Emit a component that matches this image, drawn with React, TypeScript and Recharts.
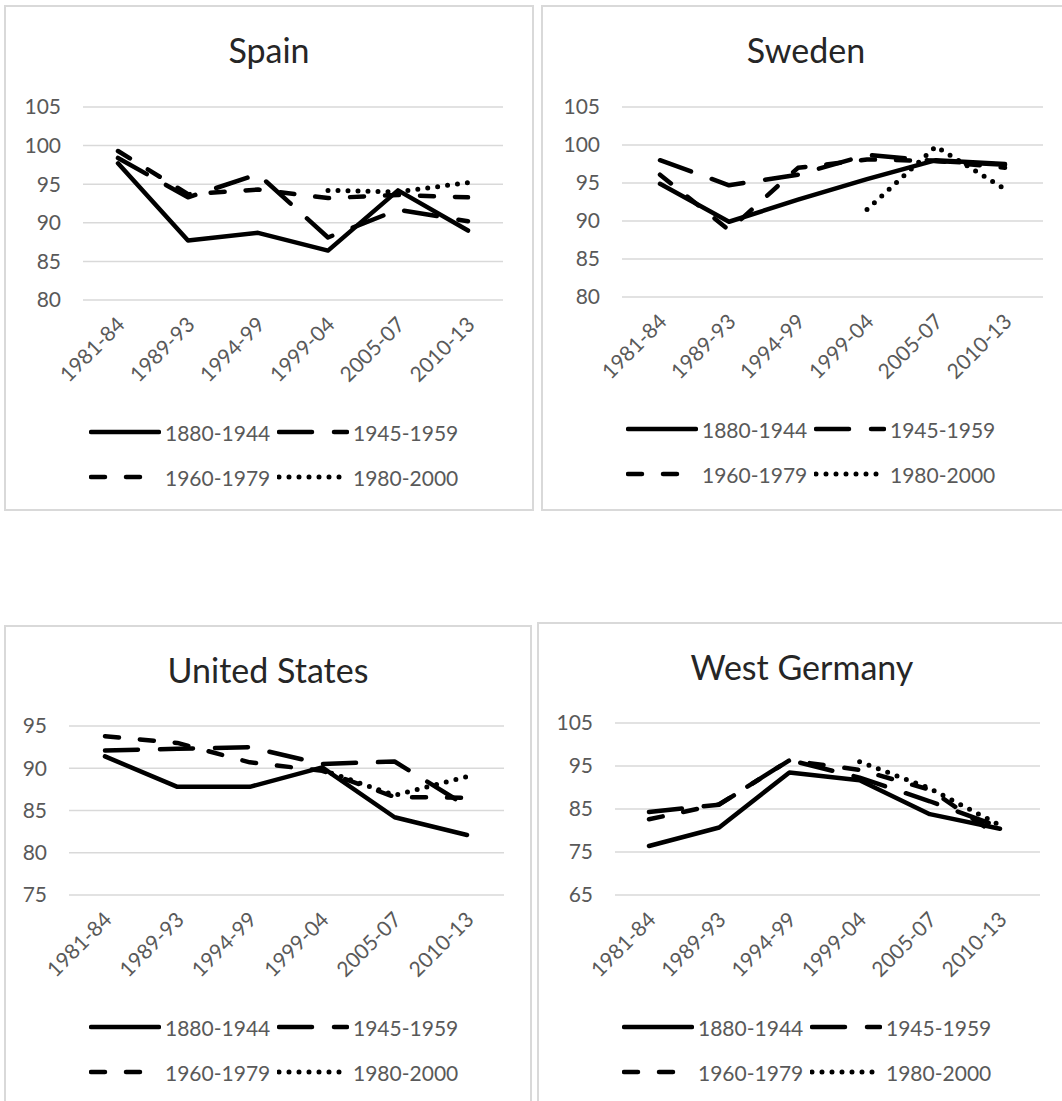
import React from "react";
import { CartesianGrid, Line, LineChart, XAxis, YAxis } from "recharts";

const periods = ["1981-84", "1989-93", "1994-99", "1999-04", "2005-07", "2010-13"];
const cohorts = ["1880-1944", "1945-1959", "1960-1979", "1980-2000"];

// Spain
const spain1880 = [97.7, 87.7, 88.7, 86.4, 94.2, 89.0];
const spain1945 = [98.4, 93.3, 96.3, 88.1, 91.7, 90.2];
const spain1960 = [99.3, 93.7, 94.3, 93.2, 93.6, 93.3];
const spain1980 = [null, null, null, 94.2, 94.0, 95.2];
const spainTicks = [80, 85, 90, 95, 100, 105];

// Sweden
const sweden1880 = [94.9, 89.9, 92.8, 95.5, 98.0, 97.5];
const sweden1945 = [98.0, 94.7, 96.1, 98.7, 97.9, 97.4];
const sweden1960 = [96.1, 88.8, 97.0, 98.1, 97.9, 97.0];
const sweden1980 = [null, null, null, 91.5, 99.8, 94.2];
const swedenTicks = [80, 85, 90, 95, 100, 105];

// United States
const us1880 = [91.4, 87.8, 87.8, 90.1, 84.2, 82.1];
const us1945 = [92.1, 92.3, 92.5, 90.5, 90.8, 85.5];
const us1960 = [93.8, 93.0, 90.7, 89.7, 86.6, 86.5];
const us1980 = [null, null, null, 89.8, 86.8, 89.0];
const usTicks = [75, 80, 85, 90, 95];

// West Germany
const wg1880 = [76.4, 80.7, 93.5, 91.7, 83.8, 80.4];
const wg1945 = [84.3, 86.0, 96.4, 92.3, 86.8, 80.8];
const wg1960 = [82.6, 86.1, 96.3, 94.1, 89.5, 78.5];
const wg1980 = [null, null, null, 96.0, 89.8, 81.2];
const wgTicks = [65, 75, 85, 95, 105];

const FONT = "Lato, 'Open Sans', sans-serif";
const GREY = "#595959";
const dashes = ["", "33 22", "14 21", "0 10"];
const widths = [4.5, 4.5, 4.5, 5];

const buildRows = (series: (number | null)[][]) =>
  periods.map((p, i) => {
    const row: Record<string, string | number | null> = { period: p };
    cohorts.forEach((c, k) => {
      row[c] = series[k][i];
    });
    return row;
  });

type Box = { left: number; top: number; width: number; height: number };
type Plot = { left: number; top: number; right: number; bottom: number };

const panels = [
  {
    title: "Spain",
    rows: buildRows([spain1880, spain1945, spain1960, spain1980]),
    ticks: spainTicks,
    box: { left: 4, top: 5, width: 530, height: 506 },
    plot: { left: 83, top: 107, right: 503, bottom: 300 },
    pad: { left: 35, right: 35 },
  },
  {
    title: "Sweden",
    rows: buildRows([sweden1880, sweden1945, sweden1960, sweden1980]),
    ticks: swedenTicks,
    box: { left: 541, top: 5, width: 530, height: 506 },
    plot: { left: 622, top: 107, right: 1043, bottom: 297 },
    pad: { left: 38, right: 38 },
  },
  {
    title: "United States",
    rows: buildRows([us1880, us1945, us1960, us1980]),
    ticks: usTicks,
    box: { left: 4, top: 625, width: 528, height: 500 },
    plot: { left: 69, top: 726, right: 504, bottom: 895 },
    pad: { left: 36, right: 37 },
  },
  {
    title: "West Germany",
    rows: buildRows([wg1880, wg1945, wg1960, wg1980]),
    ticks: wgTicks,
    box: { left: 537, top: 622, width: 530, height: 500 },
    plot: { left: 615, top: 723, right: 1040, bottom: 895 },
    pad: { left: 34, right: 40 },
  },
];

const Y_WIDTH = 60;
const X_HEIGHT = 100;

const AngledTick = (props: any) => {
  const { x, y, payload } = props;
  const ax = x + 8;
  const ay = y + 26;
  return (
    <text
      x={ax}
      y={ay}
      transform={`rotate(-45, ${ax}, ${ay})`}
      textAnchor="end"
      fill={GREY}
      fontSize={21}
      fontFamily={FONT}
    >
      {payload.value}
    </text>
  );
};

const Sample = ({ index }: { index: number }) => (
  <svg width={72} height={12} style={{ display: "block", flex: "none" }}>
    <line
      x1={2}
      x2={70}
      y1={6}
      y2={6}
      stroke="#000"
      strokeWidth={widths[index]}
      strokeLinecap="round"
      strokeDasharray={dashes[index] || undefined}
    />
  </svg>
);

const LegendRows = ({ box, plot }: { box: Box; plot: Plot }) => {
  const rows = [
    [0, 1],
    [2, 3],
  ];
  return (
    <>
      {rows.map((pair, r) => (
        <div
          key={r}
          style={{
            position: "absolute",
            left: box.left + 85,
            top: plot.bottom + 132 + r * 45 - 13,
            height: 26,
            display: "flex",
            alignItems: "center",
            fontFamily: FONT,
            fontSize: 21,
            color: GREY,
            whiteSpace: "nowrap",
          }}
        >
          {pair.map((k) => (
            <div key={k} style={{ display: "flex", alignItems: "center", width: 188 }}>
              <Sample index={k} />
              <span style={{ marginLeft: 4 }}>{cohorts[k]}</span>
            </div>
          ))}
        </div>
      ))}
    </>
  );
};

const Panel = ({ p }: { p: (typeof panels)[number] }) => {
  const { box, plot } = p;
  const margin = {
    top: plot.top - box.top,
    left: plot.left - box.left - Y_WIDTH,
    right: box.left + box.width - plot.right,
    bottom: box.top + box.height - plot.bottom - X_HEIGHT,
  };
  const domain = [p.ticks[0], p.ticks[p.ticks.length - 1]];
  return (
    <>
      <div
        style={{
          position: "absolute",
          left: box.left,
          top: box.top,
          width: box.width,
          height: box.height,
          border: "2px solid #d9d9d9",
          boxSizing: "border-box",
        }}
      />
      <svg
        style={{ position: "absolute", left: box.left, top: box.top }}
        width={box.width}
        height={80}
      >
        <text
          x={box.width / 2}
          y={58}
          textAnchor="middle"
          fontFamily={FONT}
          fontSize={34}
          fill="#262626"
        >
          {p.title}
        </text>
      </svg>
      <div style={{ position: "absolute", left: box.left, top: box.top }}>
        <LineChart width={box.width} height={box.height} data={p.rows} margin={margin}>
          <CartesianGrid vertical={false} stroke="#d9d9d9" strokeWidth={1.5} />
          <XAxis
            dataKey="period"
            interval={0}
            height={X_HEIGHT}
            padding={p.pad}
            axisLine={false}
            tickLine={false}
            tickSize={0}
            tickMargin={0}
            tick={<AngledTick />}
          />
          <YAxis
            width={Y_WIDTH}
            domain={domain}
            ticks={p.ticks}
            interval={0}
            axisLine={false}
            tickLine={false}
            tickSize={0}
            tickMargin={22}
            tick={{ fill: GREY, fontSize: 21, fontFamily: FONT }}
          />
          {cohorts.map((c, k) => (
            <Line
              key={c}
              dataKey={c}
              type="linear"
              stroke="#000"
              strokeWidth={widths[k]}
              strokeDasharray={dashes[k] || undefined}
              strokeLinecap="round"
              strokeLinejoin="round"
              dot={false}
              activeDot={false}
              isAnimationActive={false}
            />
          ))}
        </LineChart>
      </div>
      <LegendRows box={box} plot={plot} />
    </>
  );
};

export default function App() {
  return (
    <div
      style={{
        position: "absolute",
        left: 0,
        top: 0,
        width: 1062,
        height: 1101,
        overflow: "hidden",
        background: "#fff",
      }}
    >
      {panels.map((p) => (
        <Panel key={p.title} p={p} />
      ))}
    </div>
  );
}
